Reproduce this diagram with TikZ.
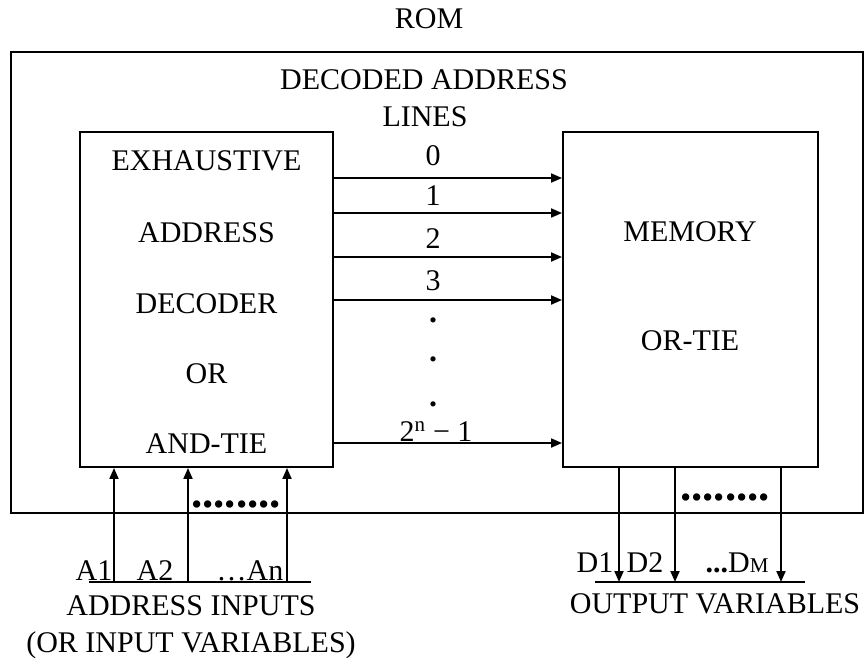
\documentclass[tikz,border=0pt]{standalone}
\usepackage{fontspec}
\setmainfont{Liberation Serif}
\usetikzlibrary{arrows.meta}
\begin{document}
\begin{tikzpicture}[x=1pt,y=-1pt,
  txt/.style={font=\fontsize{30}{36}\selectfont, inner sep=0pt, anchor=base},
  blk/.style={draw, line width=1.9pt, inner sep=0pt},
  conn/.style={line width=1.9pt, -{Triangle[length=11pt,width=9pt]}},
  wire/.style={line width=1.6pt},
  dotrow/.style={font=\fontsize{45}{45}\selectfont\bfseries, inner sep=0pt, anchor=base},
  vdot/.style={font=\fontsize{32}{32}\selectfont\bfseries, inner sep=0pt}]
\useasboundingbox (0,0) rectangle (866,657);

% boxes
\node[blk, minimum width=852pt, minimum height=461pt] (rom) at (437,282.5) {};
\node[blk, minimum width=253pt, minimum height=335pt] (dec) at (206.5,299.5) {};
\node[blk, minimum width=255pt, minimum height=335pt] (mem) at (690.5,299.5) {};

% titles
\node[txt] (tRom) at (429,28) {ROM};
\node[txt] (tDal1) at (424,89) {DECODED ADDRESS};
\node[txt] (tDal2) at (425,126) {LINES};

% decoder text
\node[txt] (d1t) at (206.5,170) {EXHAUSTIVE};
\node[txt] (d2t) at (206.5,242) {ADDRESS};
\node[txt] (d3t) at (206.5,313) {DECODER};
\node[txt] (d4t) at (206.5,383) {OR};
\node[txt] (d5t) at (206.5,453) {AND-TIE};

% memory text
\node[txt] (m1t) at (690,241) {MEMORY};
\node[txt] (m2t) at (690,350) {OR-TIE};

% decoded lines
\foreach \yy in {178,213,257,300,443}{
  \draw[conn] (dec.east |- 0,\yy) -- (mem.west |- 0,\yy);
}
\node[txt] (lab0) at (433,165) {0};
\node[txt] (lab1) at (433,205) {1};
\node[txt] (lab2) at (433,248) {2};
\node[txt] (lab3) at (433,290) {3};
\node[vdot] (vd1) at (433,320) {.};
\node[vdot] (vd2) at (433,359) {.};
\node[vdot] (vd3) at (433,404) {.};
\node[txt] (labn) at (436,441) {2\textsuperscript{n} − 1};

% address inputs
\coordinate (a1) at (114,582);
\coordinate (a2) at (188,582);
\coordinate (an) at (287,582);
\draw[conn] (a1) -- (dec.south -| a1);
\draw[conn] (a2) -- (dec.south -| a2);
\draw[conn] (an) -- (dec.south -| an);
\coordinate (ulA) at (89,582);
\coordinate (urA) at (311,582);
\draw[wire] (ulA) -- (urA);
\node[dotrow] (dotsA) at (236,507) {........};
\node[txt] (A1) at (94,580) {A1};
\node[txt] (A2) at (155,580) {A2};
\node[txt] (An) at (250,580) {…An};
\node[txt] (ai1) at (191,615) {ADDRESS INPUTS};
\node[txt] (ai2) at (191,652) {(OR INPUT VARIABLES)};

% outputs
\coordinate (o1) at (619,582);
\coordinate (o2) at (675,582);
\coordinate (om) at (781,582);
\draw[conn] (mem.south -| o1) -- (o1);
\draw[conn] (mem.south -| o2) -- (o2);
\draw[conn] (mem.south -| om) -- (om);
\coordinate (ulD) at (595,582);
\coordinate (urD) at (805,582);
\draw[wire] (ulD) -- (urD);
\node[dotrow] (dotsD) at (725,500) {........};
\node[txt] (D1) at (595,572) {D1};
\node[txt] (D2) at (645,572) {D2};
\node[txt] (Dm) at (737,572) {\textbf{...}D{\fontsize{21}{21}\selectfont M}};
\node[txt] (ov) at (715,613) {OUTPUT VARIABLES};
\end{tikzpicture}
\end{document}
